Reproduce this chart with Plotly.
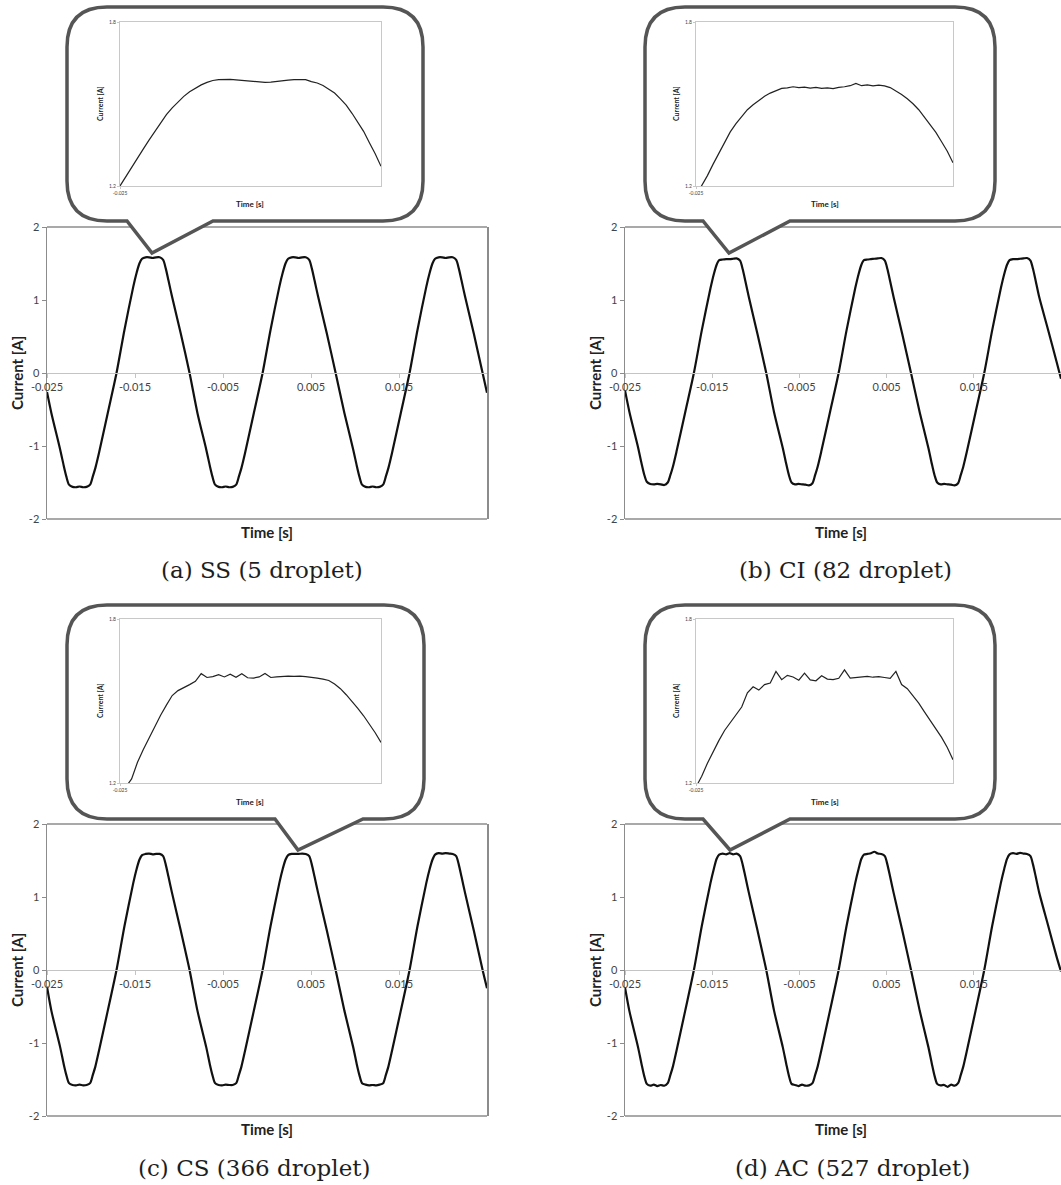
import plotly.graph_objects as go

# ---------------- data ----------------
main_time = [
    -0.0250, -0.0245, -0.0235, -0.0231, -0.0228, -0.0225, -0.0221, -0.0217, -0.0213, -0.0209, -0.0205, -0.0201, -0.0198, -0.0195, -0.0191, -0.0181, -0.0171,
    -0.0162, -0.0152, -0.0148, -0.0145, -0.0142, -0.0138, -0.0134, -0.0130, -0.0126, -0.0122, -0.0118, -0.0115, -0.0112, -0.0108, -0.0098, -0.0088,
    -0.0079, -0.0069, -0.0065, -0.0062, -0.0059, -0.0055, -0.0051, -0.0047, -0.0043, -0.0039, -0.0035, -0.0032, -0.0029, -0.0025, -0.0015, -0.0005,
    0.0004, 0.0014, 0.0018, 0.0021, 0.0024, 0.0028, 0.0032, 0.0036, 0.0040, 0.0044, 0.0048, 0.0051, 0.0054, 0.0058, 0.0068, 0.0078,
    0.0088, 0.0098, 0.0102, 0.0105, 0.0108, 0.0112, 0.0116, 0.0120, 0.0124, 0.0128, 0.0132, 0.0135, 0.0138, 0.0142, 0.0152, 0.0162,
    0.0171, 0.0181, 0.0185, 0.0188, 0.0191, 0.0195, 0.0199, 0.0203, 0.0207, 0.0211, 0.0215, 0.0218, 0.0221, 0.0225, 0.0235, 0.0245, 0.0250,
]

ss_current = [
    -0.26, -0.55, -1.05, -1.27, -1.42, -1.53, -1.56, -1.565, -1.555, -1.565, -1.56, -1.53, -1.42, -1.30, -1.10, -0.55, 0.0,
    0.59, 1.18, 1.38, 1.50, 1.565, 1.585, 1.585, 1.575, 1.585, 1.585, 1.55, 1.43, 1.27, 1.05, 0.54, 0.0,
    -0.55, -1.05, -1.27, -1.42, -1.53, -1.56, -1.565, -1.555, -1.565, -1.56, -1.53, -1.42, -1.30, -1.10, -0.55, 0.0,
    0.59, 1.18, 1.38, 1.50, 1.565, 1.585, 1.585, 1.575, 1.585, 1.585, 1.55, 1.43, 1.27, 1.05, 0.54, 0.0,
    -0.55, -1.05, -1.27, -1.42, -1.53, -1.56, -1.565, -1.555, -1.565, -1.56, -1.53, -1.42, -1.30, -1.10, -0.55, 0.0,
    0.59, 1.18, 1.38, 1.50, 1.565, 1.585, 1.585, 1.575, 1.585, 1.585, 1.55, 1.43, 1.27, 1.05, 0.54, 0.0, -0.27,
]

ci_current = [
    -0.24, -0.53, -1.02, -1.24, -1.39, -1.49, -1.52, -1.525, -1.52, -1.525, -1.535, -1.50, -1.40, -1.28, -1.08, -0.54, 0.0,
    0.58, 1.16, 1.36, 1.48, 1.545, 1.555, 1.56, 1.56, 1.565, 1.57, 1.54, 1.42, 1.26, 1.04, 0.53, 0.0,
    -0.54, -1.03, -1.25, -1.40, -1.50, -1.525, -1.52, -1.525, -1.53, -1.54, -1.51, -1.40, -1.28, -1.08, -0.54, 0.0,
    0.58, 1.16, 1.36, 1.48, 1.545, 1.555, 1.56, 1.565, 1.57, 1.575, 1.54, 1.42, 1.26, 1.04, 0.53, 0.0,
    -0.54, -1.03, -1.25, -1.40, -1.50, -1.525, -1.52, -1.525, -1.53, -1.54, -1.51, -1.40, -1.28, -1.08, -0.54, 0.0,
    0.58, 1.16, 1.36, 1.48, 1.545, 1.56, 1.56, 1.565, 1.57, 1.575, 1.54, 1.42, 1.26, 1.04, 0.60, 0.15, -0.08,
]

cs_current = [
    -0.23, -0.56, -1.06, -1.29, -1.44, -1.55, -1.575, -1.58, -1.57, -1.58, -1.575, -1.55, -1.44, -1.32, -1.11, -0.56, 0.0,
    0.60, 1.19, 1.39, 1.51, 1.575, 1.59, 1.595, 1.585, 1.59, 1.59, 1.56, 1.44, 1.28, 1.06, 0.54, 0.0,
    -0.56, -1.06, -1.29, -1.44, -1.55, -1.575, -1.58, -1.57, -1.575, -1.575, -1.55, -1.44, -1.32, -1.11, -0.56, 0.0,
    0.60, 1.19, 1.39, 1.51, 1.575, 1.59, 1.59, 1.59, 1.595, 1.59, 1.56, 1.44, 1.28, 1.06, 0.54, 0.0,
    -0.56, -1.06, -1.29, -1.44, -1.55, -1.57, -1.58, -1.575, -1.58, -1.57, -1.55, -1.44, -1.32, -1.11, -0.56, 0.0,
    0.60, 1.19, 1.39, 1.51, 1.58, 1.60, 1.595, 1.60, 1.595, 1.59, 1.56, 1.44, 1.28, 1.06, 0.54, 0.0, -0.25,
]

ac_current = [
    -0.24, -0.56, -1.06, -1.29, -1.45, -1.56, -1.585, -1.57, -1.59, -1.575, -1.585, -1.55, -1.44, -1.32, -1.11, -0.56, 0.0,
    0.60, 1.19, 1.39, 1.52, 1.58, 1.595, 1.585, 1.60, 1.585, 1.595, 1.56, 1.44, 1.28, 1.06, 0.54, 0.0,
    -0.56, -1.06, -1.29, -1.45, -1.56, -1.575, -1.59, -1.57, -1.585, -1.58, -1.55, -1.44, -1.32, -1.11, -0.56, 0.0,
    0.60, 1.19, 1.39, 1.52, 1.58, 1.59, 1.60, 1.62, 1.595, 1.59, 1.56, 1.44, 1.28, 1.06, 0.54, 0.0,
    -0.56, -1.06, -1.29, -1.45, -1.56, -1.58, -1.575, -1.60, -1.57, -1.585, -1.55, -1.44, -1.32, -1.11, -0.56, 0.0,
    0.60, 1.19, 1.39, 1.52, 1.585, 1.60, 1.59, 1.605, 1.595, 1.59, 1.56, 1.44, 1.28, 1.06, 0.62, 0.18, -0.02,
]

inset_time = [
    -0.0250, -0.0249, -0.0248, -0.0247, -0.0246, -0.0245, -0.0244, -0.0243, -0.0242, -0.0241,
    -0.0240, -0.0239, -0.0238, -0.0237, -0.0236, -0.0235, -0.0234, -0.0233, -0.0232, -0.0231,
    -0.0230, -0.0229, -0.0228, -0.0227, -0.0226, -0.0225, -0.0224, -0.0223, -0.0222, -0.0221,
    -0.0220, -0.0219, -0.0218, -0.0217, -0.0216, -0.0215, -0.0214, -0.0213, -0.0212, -0.0211,
    -0.0210, -0.0209, -0.0208, -0.0207, -0.0206, -0.0205,
]

ss_inset = [
    1.200, 1.235, 1.266, 1.300, 1.335, 1.368, 1.400, 1.432, 1.461, 1.486,
    1.508, 1.528, 1.545, 1.558, 1.570, 1.579, 1.586, 1.589, 1.590, 1.590,
    1.588, 1.586, 1.584, 1.582, 1.580, 1.579, 1.580, 1.583, 1.585, 1.587,
    1.589, 1.589, 1.589, 1.582, 1.577, 1.568, 1.555, 1.540, 1.519, 1.496,
    1.466, 1.435, 1.400, 1.358, 1.318, 1.272,
]

ci_inset = [
    1.165, 1.200, 1.238, 1.280, 1.318, 1.358, 1.398, 1.428, 1.455, 1.479,
    1.497, 1.514, 1.528, 1.540, 1.550, 1.557, 1.559, 1.563, 1.560, 1.562,
    1.558, 1.561, 1.557, 1.559, 1.556, 1.561, 1.563, 1.567, 1.575, 1.567,
    1.570, 1.566, 1.569, 1.566, 1.560, 1.549, 1.535, 1.519, 1.501, 1.479,
    1.452, 1.426, 1.396, 1.362, 1.327, 1.285,
]

cs_inset = [
    1.160, 1.185, 1.215, 1.275, 1.322, 1.365, 1.408, 1.448, 1.485, 1.520,
    1.538, 1.548, 1.560, 1.572, 1.600, 1.586, 1.589, 1.596, 1.588, 1.598,
    1.587, 1.600, 1.585, 1.584, 1.588, 1.601, 1.586, 1.588, 1.590, 1.591,
    1.590, 1.591, 1.589, 1.587, 1.584, 1.580, 1.575, 1.562, 1.545, 1.523,
    1.500, 1.473, 1.446, 1.416, 1.384, 1.348,
]

ac_inset = [
    1.185, 1.225, 1.272, 1.315, 1.355, 1.392, 1.420, 1.448, 1.478, 1.530,
    1.552, 1.540, 1.560, 1.566, 1.608, 1.578, 1.594, 1.588, 1.576, 1.602,
    1.577, 1.574, 1.592, 1.580, 1.578, 1.583, 1.614, 1.584, 1.586, 1.588,
    1.590, 1.587, 1.589, 1.586, 1.583, 1.608, 1.560, 1.545, 1.518, 1.492,
    1.460, 1.428, 1.398, 1.367, 1.330, 1.285,
]

x_ticks = [-0.025, -0.015, -0.005, 0.005, 0.015]
x_tick_labels = ["-0.025", "-0.015", "-0.005", "0.005", "0.015"]
y_ticks = [-2, -1, 0, 1, 2]
y_tick_labels = ["-2", "-1", "0", "1", "2"]
inset_y_ticks = [1.2, 1.8]
inset_y_labels = ["1.2", "1.8"]
inset_x_ticks = [-0.025]
inset_x_labels = ["-0.025"]
captions = ["(a) SS (5 droplet)", "(b) CI (82 droplet)", "(c) CS (366 droplet)", "(d) AC (527 droplet)"]
main_series = [ss_current, ci_current, cs_current, ac_current]
inset_series = [ss_inset, ci_inset, cs_inset, ac_inset]

# ---------------- layout geometry (pixels) ----------------
W, H = 1061, 1185
def px(x):
    return x / W
def py(y):
    return 1 - y / H

main_geo = [
    dict(L=47, R=487, T=227, B=519, right_line=True, ytx=17, xtx=267, cap=(262, 570)),
    dict(L=625, R=1061, T=227, B=519, right_line=False, ytx=595, xtx=841, cap=(845, 570)),
    dict(L=47, R=487, T=824, B=1116, right_line=True, ytx=17, xtx=267, cap=(254, 1168)),
    dict(L=625, R=1061, T=824, B=1116, right_line=False, ytx=595, xtx=841, cap=(852, 1168)),
]
inset_geo = [
    dict(L=120, R=381, T=22, B=186, box=(67, 423, 7, 221), ptr=(127, 213, 152, 253), ytx=100, xtx=250, xty=204),
    dict(L=696, R=953, T=22, B=186, box=(645, 995, 7, 221), ptr=(703, 790, 729, 253), ytx=676, xtx=825, xty=204),
    dict(L=120, R=381, T=619, B=783, box=(67, 424, 605, 819), ptr=(275, 363, 298, 850), ytx=100, xtx=250, xty=802),
    dict(L=696, R=953, T=619, B=783, box=(645, 995, 605, 819), ptr=(703, 790, 730, 850), ytx=676, xtx=825, xty=802),
]

FONT = "Lato"
fig = go.Figure()
layout = dict(
    template="none",
    width=W, height=H,
    margin=dict(l=0, r=0, t=0, b=0, pad=0, autoexpand=False),
    paper_bgcolor="white",
    plot_bgcolor="rgba(0,0,0,0)",
    showlegend=False,
    hovermode=False,
    font=dict(family=FONT, color="#333"),
)
shapes = []
annotations = []

def note(x, y, text, size, family=FONT, angle=0, color="#222"):
    annotations.append(dict(x=px(x), y=py(y), xref="paper", yref="paper",
                            xanchor="center", yanchor="middle",
                            text=text, textangle=angle, showarrow=False,
                            font=dict(size=size, color=color, family=family)))

for i, g in enumerate(main_geo):
    n = i + 1
    xs = "" if n == 1 else str(n)
    fig.add_trace(go.Scatter(
        x=main_time, y=main_series[i], mode="lines",
        line=dict(color="#111111", width=2.2, shape="spline", smoothing=0.7),
        xaxis="x" + xs, yaxis="y" + xs, hoverinfo="skip"))
    zero_px = (g["T"] + g["B"]) / 2
    layout["xaxis" + xs] = dict(
        domain=[px(g["L"]), px(g["R"])], range=[-0.025, 0.025],
        anchor="free", position=py(zero_px), automargin=False,
        showline=True, linecolor="#c4c4c4", linewidth=1.2,
        ticks="outside", ticklen=4, tickcolor="#c4c4c4",
        tickvals=x_ticks, ticktext=x_tick_labels,
        tickfont=dict(size=11, color="#444", family=FONT),
        showgrid=False, zeroline=False)
    layout["yaxis" + xs] = dict(
        domain=[py(g["B"]), py(g["T"])], range=[-2, 2],
        anchor="x" + xs, automargin=False, showline=True, linecolor="#8c8c8c", linewidth=1.5,
        mirror=g["right_line"], ticks="outside", ticklen=4, tickcolor="#8c8c8c",
        tickvals=y_ticks, ticktext=y_tick_labels,
        tickfont=dict(size=11, color="#444", family=FONT),
        showgrid=False, zeroline=False)
    for yy in (g["T"], g["B"]):
        shapes.append(dict(type="line", xref="paper", yref="paper",
                           x0=px(g["L"]), x1=px(g["R"]), y0=py(yy), y1=py(yy),
                           line=dict(color="#8c8c8c", width=1.5), layer="below"))
    note(g["ytx"], zero_px, "<b>Current [A]</b>", 15, angle=-90)
    note(g["xtx"], g["B"] + 13, "<b>Time [s]</b>", 15)
    note(g["cap"][0], g["cap"][1], captions[i], 23, family="DejaVu Serif", color="#1e1e1e")

for i, g in enumerate(inset_geo):
    n = i + 5
    xs = str(n)
    L, R, T, B = g["box"]
    b1, b2, tx, ty = g["ptr"]
    r = 40
    pts = [
        f"M {px(L + r)},{py(T)}",
        f"L {px(R - r)},{py(T)}",
        f"Q {px(R)},{py(T)} {px(R)},{py(T + r)}",
        f"L {px(R)},{py(B - r)}",
        f"Q {px(R)},{py(B)} {px(R - r)},{py(B)}",
        f"L {px(b2)},{py(B)}",
        f"L {px(tx)},{py(ty)}",
        f"L {px(b1)},{py(B)}",
        f"L {px(L + r)},{py(B)}",
        f"Q {px(L)},{py(B)} {px(L)},{py(B - r)}",
        f"L {px(L)},{py(T + r)}",
        f"Q {px(L)},{py(T)} {px(L + r)},{py(T)}",
        "Z",
    ]
    shapes.append(dict(type="path", xref="paper", yref="paper", path=" ".join(pts),
                       fillcolor="white", line=dict(color="#555555", width=3.5), layer="below"))
    fig.add_trace(go.Scatter(
        x=inset_time, y=inset_series[i], mode="lines",
        line=dict(color="#222222", width=1.2),
        xaxis="x" + xs, yaxis="y" + xs, hoverinfo="skip"))
    layout["xaxis" + xs] = dict(
        domain=[px(g["L"]), px(g["R"])], range=[-0.025, -0.0205],
        anchor="y" + xs, automargin=False, showline=True, mirror=True, linecolor="#c8c8c8", linewidth=1,
        ticks="outside", ticklen=2, tickcolor="#c8c8c8",
        tickvals=inset_x_ticks, ticktext=inset_x_labels,
        tickfont=dict(size=5, color="#444", family=FONT),
        showgrid=False, zeroline=False)
    layout["yaxis" + xs] = dict(
        domain=[py(g["B"]), py(g["T"])], range=[1.2, 1.8],
        anchor="x" + xs, automargin=False, showline=True, mirror=True, linecolor="#c8c8c8", linewidth=1,
        ticks="outside", ticklen=2, tickcolor="#c8c8c8",
        tickvals=inset_y_ticks, ticktext=inset_y_labels,
        tickfont=dict(size=5, color="#444", family=FONT),
        showgrid=False, zeroline=False)
    note(g["ytx"], (g["T"] + g["B"]) / 2, "<b>Current [A]</b>", 7, angle=-90)
    note(g["xtx"], g["xty"], "<b>Time [s]</b>", 8)

layout["shapes"] = shapes
layout["annotations"] = annotations
fig.update_layout(**layout)
fig.write_html("out.html",
               config={"displayModeBar": False, "staticPlot": True},
               post_script="document.body.style.margin='0px';document.body.style.overflow='hidden';")
